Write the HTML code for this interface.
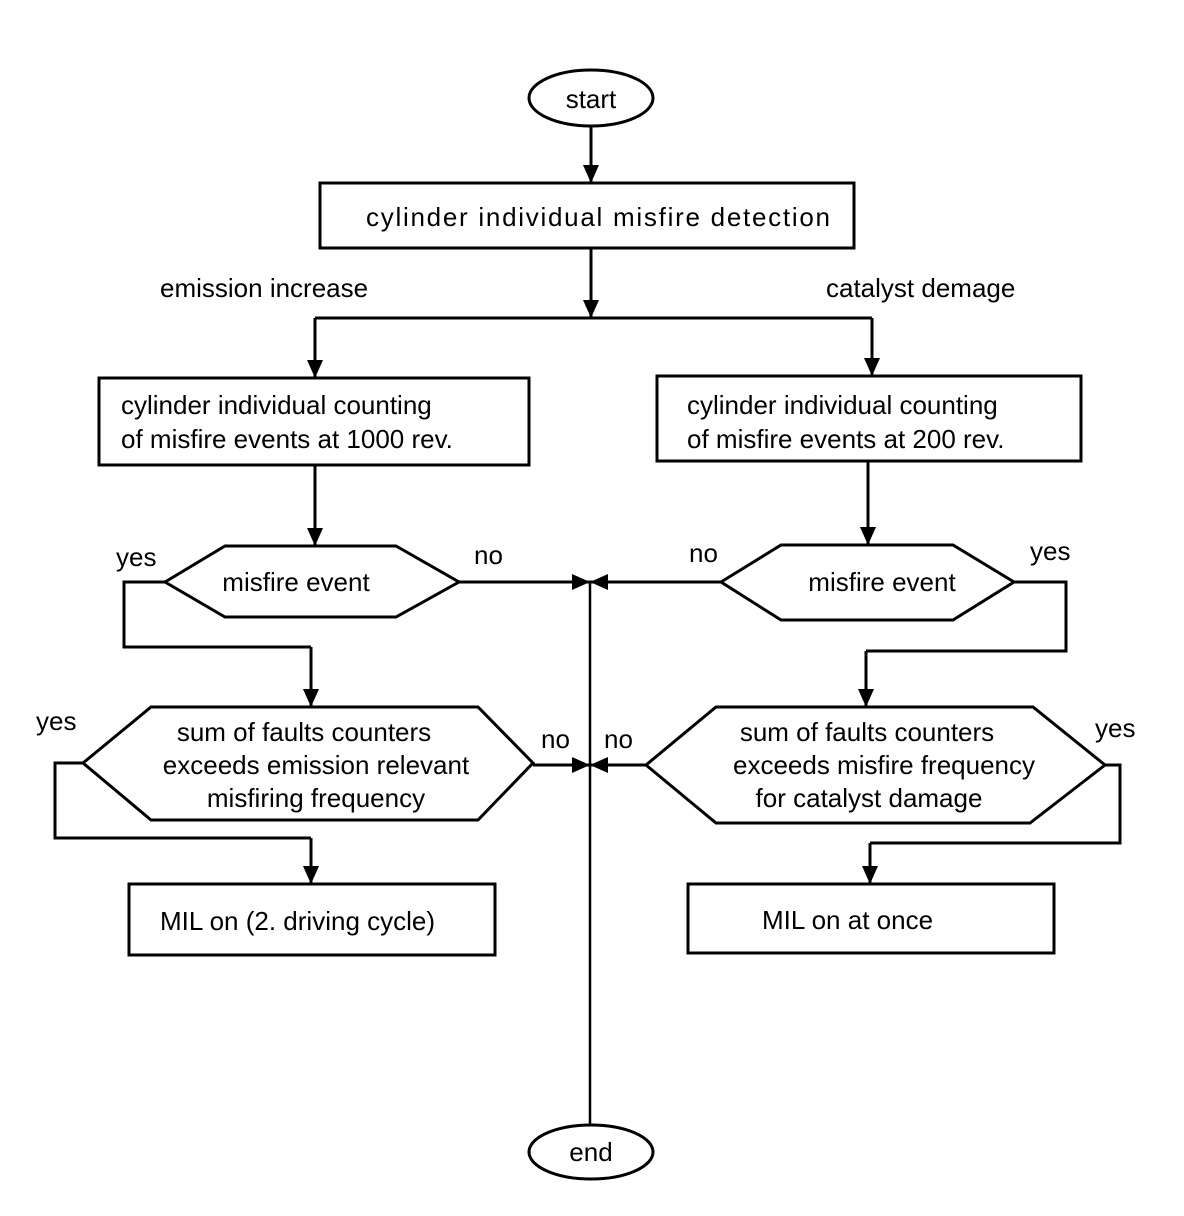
<!DOCTYPE html>
<html><head><meta charset="utf-8"><style>html,body{margin:0;padding:0;background:#fff}svg{display:block}</style></head>
<body>
<svg width="1184" height="1216" viewBox="0 0 1184 1216" xmlns="http://www.w3.org/2000/svg" font-family="Liberation Sans, Arial, sans-serif" font-size="26" fill="none" stroke="#000" stroke-width="3">
<defs>
<marker id="a" markerWidth="10" markerHeight="10" refX="10" refY="5" orient="auto" markerUnits="userSpaceOnUse" viewBox="0 0 10 10"><path d="M0,0 L10,5 L0,10 z" fill="#000" stroke="none"/></marker>
<marker id="b" markerWidth="18" markerHeight="16" refX="18" refY="8" orient="auto" markerUnits="userSpaceOnUse" viewBox="0 0 18 16"><path d="M0,0 L18,8 L0,16 z" fill="#000" stroke="none"/></marker>
<clipPath id="c"><rect x="0" y="0" width="1139" height="1216"/></clipPath>
</defs>
<!-- start -->
<ellipse cx="591" cy="98" rx="62" ry="28"/>
<line x1="591" y1="126" x2="591" y2="183" marker-end="url(#b)"/>
<rect x="320" y="183" width="534" height="65"/>
<line x1="591" y1="248" x2="591" y2="318" marker-end="url(#b)"/>
<line x1="315" y1="318" x2="872" y2="318"/>
<line x1="315" y1="318" x2="315" y2="378" marker-end="url(#b)"/>
<line x1="872" y1="318" x2="872" y2="376" marker-end="url(#b)"/>
<rect x="99" y="378" width="430" height="87"/>
<rect x="657" y="376" width="424" height="85"/>
<line x1="315" y1="465" x2="315" y2="546" marker-end="url(#b)"/>
<line x1="868" y1="461" x2="868" y2="545" marker-end="url(#b)"/>
<!-- left hex1 -->
<polygon points="165,582 225,546 396,546 459,582 396,617 225,617"/>
<polyline points="165,582 124,582 124,647 311,647"/>
<line x1="311" y1="647" x2="311" y2="707" marker-end="url(#b)"/>
<line x1="459" y1="582" x2="590" y2="582" marker-end="url(#b)"/>
<!-- right hex1 -->
<polygon points="721,582 781,545 953,545 1014,582 953,620 781,620"/>
<line x1="721" y1="582" x2="590" y2="582" marker-end="url(#b)"/>
<polyline points="1014,582 1066,582 1066,651 866,651"/>
<line x1="866" y1="651" x2="866" y2="707" marker-end="url(#b)"/>
<!-- left hex2 -->
<polygon points="83,763 151,707 478,707 533,763 478,820 151,820"/>
<polyline points="83,763 55,763 55,838 311,838"/>
<line x1="311" y1="838" x2="311" y2="884" marker-end="url(#b)"/>
<line x1="533" y1="765" x2="590" y2="765" marker-end="url(#b)"/>
<!-- right hex2 -->
<polygon points="646,765 716,707 1033,707 1105,765 1030,823 716,823"/>
<line x1="646" y1="765" x2="590" y2="765" marker-end="url(#b)"/>
<polyline points="1105,765 1120,765 1120,843 870,843"/>
<line x1="870" y1="843" x2="870" y2="884" marker-end="url(#b)"/>
<!-- vertical to end -->
<line x1="590" y1="582" x2="590" y2="1125" stroke-width="2.5"/>
<rect x="129" y="884" width="366" height="71"/>
<rect x="688" y="884" width="366" height="69"/>
<ellipse cx="591" cy="1152" rx="62" ry="27"/>
<g fill="#000" stroke="none">
<text x="591" y="108" text-anchor="middle">start</text>
<text x="591" y="1161" text-anchor="middle">end</text>
<text x="366" y="226" textLength="464">cylinder individual misfire detection</text>
<text x="160" y="297">emission increase</text>
<text x="826" y="297">catalyst demage</text>
<text x="121" y="414">cylinder individual counting</text>
<text x="121" y="448">of misfire events at 1000 rev.</text>
<text x="687" y="414">cylinder individual counting</text>
<text x="687" y="448">of misfire events at 200 rev.</text>
<text x="296" y="591" text-anchor="middle">misfire event</text>
<text x="882" y="591" text-anchor="middle">misfire event</text>
<text x="116" y="566">yes</text>
<text x="474" y="564">no</text>
<text x="689" y="562">no</text>
<text x="1030" y="560">yes</text>
<text x="36" y="730">yes</text>
<text x="541" y="748">no</text>
<text x="604" y="748">no</text>
<text x="1095" y="737" clip-path="url(#c)">yes</text>
<text x="304" y="741" text-anchor="middle">sum of faults counters</text>
<text x="316" y="774" text-anchor="middle">exceeds emission relevant</text>
<text x="316" y="807" text-anchor="middle">misfiring frequency</text>
<text x="867" y="741" text-anchor="middle">sum of faults counters</text>
<text x="884" y="774" text-anchor="middle">exceeds misfire frequency</text>
<text x="869" y="807" text-anchor="middle">for catalyst damage</text>
<text x="160" y="930">MIL on (2. driving cycle)</text>
<text x="762" y="929">MIL on at once</text>
</g>
</svg>
</body></html>
